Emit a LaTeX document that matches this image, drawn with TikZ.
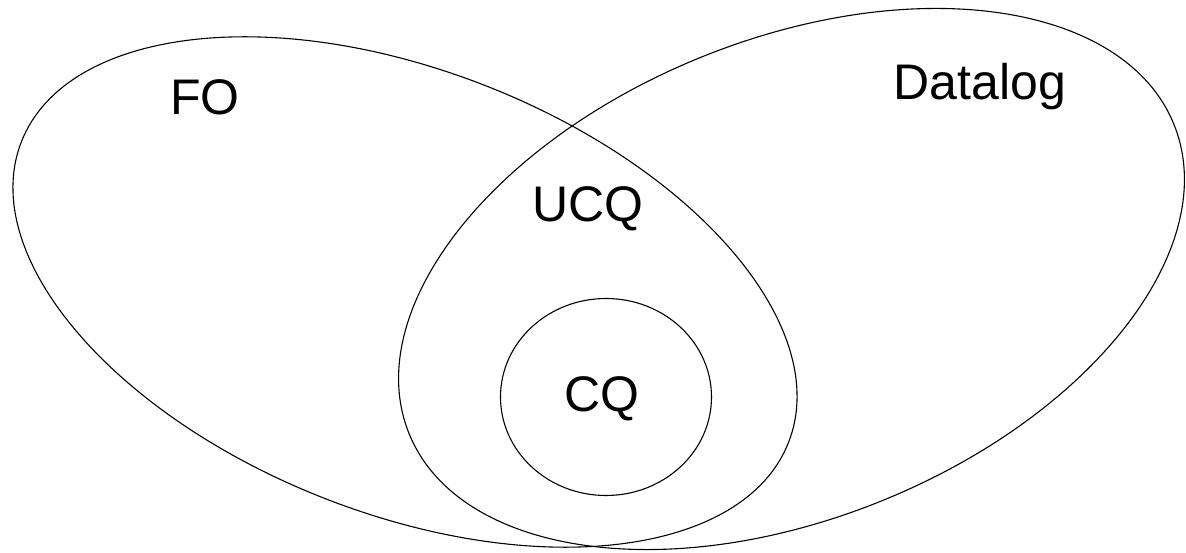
\documentclass[tikz,border=0pt]{standalone}
\usepackage{fontspec}
\setmainfont{Liberation Sans}
\usetikzlibrary{shapes,positioning}
\tikzstyle{set} = [draw, ellipse, line width=1.1pt, inner sep=0pt]
\tikzstyle{lbl} = [font=\fontsize{50}{60}\selectfont, anchor=base]

\begin{document}
\begin{tikzpicture}[x=1pt,y=1pt]
\useasboundingbox (0,0) rectangle (1186,552);
% the two classes
\node[set, minimum width=824pt, minimum height=443pt, rotate=-21.4] (fo) at (405,260) {};
\node[set, minimum width=825pt, minimum height=479pt, rotate=22] (datalog) at (791.5,273) {};
% conjunctive queries
\node[set, minimum width=211pt, minimum height=197pt] (cq) at (606,155) {};

\node[lbl] (folbl) at (205,437) {FO};
\node[lbl] (dllbl) at (980,452) {Datalog};
\node[lbl] (ucqlbl) at (588,330) {UCQ};
\node[lbl] (cqlbl) at (602,140) {CQ};
\end{tikzpicture}
\end{document}
